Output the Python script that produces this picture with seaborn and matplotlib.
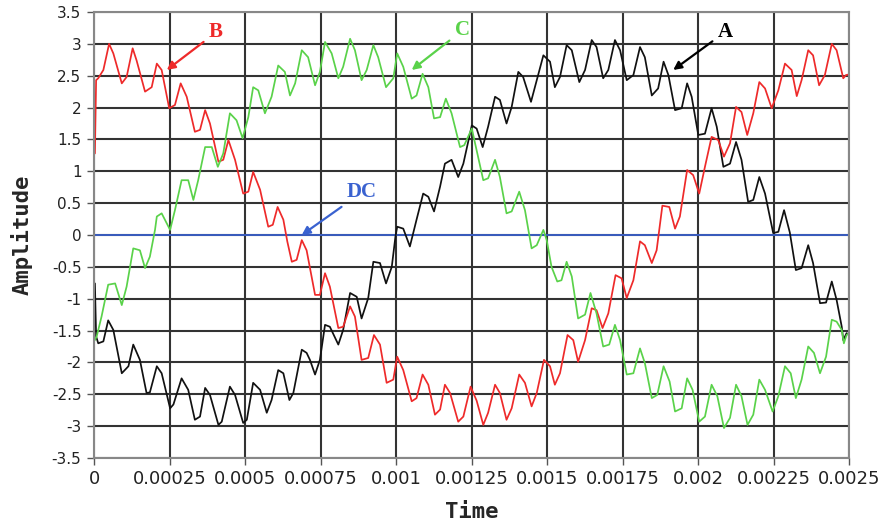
import numpy as np
import pandas as pd
import matplotlib
matplotlib.use("Agg")
import matplotlib.pyplot as plt
import seaborn as sns

# ---- data (time in microseconds, amplitude) ----
a_t = [3, 7, 14, 31, 47, 64, 92, 114, 130, 152, 174, 185, 208, 224, 252, 263, 290, 312, 334, 351,
       368, 384, 412, 423, 450, 467, 494, 506, 527, 550, 572, 588, 610, 627, 647, 660, 688, 704, 715, 732,
       748, 765, 781, 809, 825, 848, 870, 886, 908, 925, 947, 967, 986, 998, 1004, 1024, 1046, 1068, 1090, 1107,
       1126, 1146, 1162, 1184, 1206, 1223, 1251, 1267, 1287, 1305, 1328, 1344, 1366, 1383, 1405, 1421, 1447, 1466, 1488, 1510,
       1526, 1543, 1565, 1582, 1607, 1626, 1648, 1664, 1686, 1703, 1725, 1742, 1764, 1786, 1808, 1824, 1847, 1868, 1886, 1902,
       1924, 1946, 1964, 1979, 2001, 2023, 2045, 2062, 2084, 2106, 2126, 2144, 2166, 2183, 2203, 2222, 2249, 2266, 2285, 2304,
       2324, 2343, 2365, 2381, 2404, 2424, 2443, 2459, 2476, 2481, 2492, 2500]
a_v = [-0.76, -1.59, -1.70, -1.67, -1.34, -1.49, -2.17, -2.06, -1.72, -1.96, -2.48, -2.47, -2.06, -2.17, -2.72, -2.66, -2.25, -2.43, -2.90, -2.85,
       -2.40, -2.51, -2.98, -2.93, -2.38, -2.51, -2.95, -2.90, -2.32, -2.43, -2.79, -2.59, -2.12, -2.17, -2.59, -2.48, -1.80, -1.85, -1.96, -2.19,
       -1.96, -1.41, -1.44, -1.72, -1.49, -0.91, -0.97, -1.31, -0.99, -0.42, -0.44, -0.76, -0.50, -0.03, 0.13, 0.10, -0.18, 0.24, 0.65, 0.60,
       0.37, 0.76, 1.12, 1.18, 0.91, 1.12, 1.72, 1.67, 1.38, 1.70, 2.17, 2.12, 1.75, 2.01, 2.56, 2.48, 2.09, 2.43, 2.82, 2.72,
       2.32, 2.48, 2.98, 2.90, 2.40, 2.59, 3.06, 2.95, 2.46, 2.59, 3.06, 2.90, 2.43, 2.51, 2.95, 2.79, 2.19, 2.30, 2.72, 2.51,
       1.96, 1.99, 2.38, 2.17, 1.57, 1.59, 1.99, 1.70, 1.07, 1.12, 1.46, 1.18, 0.52, 0.55, 0.91, 0.65, 0.03, 0.05, 0.39, 0.04,
       -0.55, -0.52, -0.16, -0.44, -1.07, -1.06, -0.73, -1.02, -1.44, -1.65, -1.54, -1.57]

b_t = [3, 7, 14, 31, 50, 64, 92, 108, 128, 141, 169, 191, 208, 224, 249, 268, 287, 307, 334, 351,
       368, 384, 412, 428, 445, 467, 494, 511, 527, 550, 577, 592, 608, 627, 640, 655, 671, 688, 704, 732,
       748, 765, 781, 809, 825, 848, 864, 886, 908, 927, 947, 969, 991, 1004, 1024, 1052, 1068, 1088, 1107, 1129,
       1146, 1162, 1179, 1206, 1223, 1247, 1267, 1289, 1305, 1328, 1344, 1366, 1383, 1408, 1427, 1449, 1466, 1490, 1510, 1526,
       1543, 1568, 1587, 1603, 1626, 1648, 1664, 1684, 1703, 1727, 1747, 1764, 1786, 1808, 1824, 1847, 1863, 1882, 1905, 1924,
       1940, 1964, 1984, 2004, 2023, 2045, 2067, 2086, 2106, 2126, 2144, 2163, 2183, 2203, 2222, 2244, 2266, 2288, 2310, 2327,
       2343, 2365, 2381, 2401, 2420, 2443, 2459, 2481, 2490, 2500]
b_v = [1.28, 2.43, 2.46, 2.59, 3.00, 2.85, 2.38, 2.48, 2.93, 2.74, 2.25, 2.32, 2.69, 2.59, 1.99, 2.04, 2.38, 2.17, 1.62, 1.65,
       1.96, 1.75, 1.15, 1.18, 1.49, 1.18, 0.65, 0.68, 0.99, 0.71, 0.13, 0.16, 0.44, 0.24, -0.10, -0.42, -0.39, -0.08, -0.24, -0.94,
       -0.94, -0.60, -0.81, -1.46, -1.44, -1.12, -1.28, -1.96, -1.93, -1.57, -1.72, -2.32, -2.27, -1.91, -2.12, -2.61, -2.56, -2.19, -2.35, -2.82,
       -2.74, -2.35, -2.48, -2.93, -2.85, -2.38, -2.60, -2.98, -2.79, -2.35, -2.48, -2.90, -2.72, -2.19, -2.32, -2.69, -2.48, -1.96, -2.06, -2.35,
       -2.17, -1.57, -1.65, -1.99, -1.65, -1.15, -1.18, -1.46, -1.23, -0.63, -0.68, -0.99, -0.71, -0.10, -0.16, -0.44, -0.24, 0.46, 0.44, 0.10,
       0.29, 1.02, 0.94, 0.65, 1.07, 1.54, 1.49, 1.23, 1.44, 2.01, 1.93, 1.57, 1.91, 2.40, 2.30, 1.99, 2.27, 2.69, 2.59, 2.18,
       2.43, 2.90, 2.82, 2.35, 2.51, 3.00, 2.90, 2.46, 2.51, 2.52]

c_t = [3, 9, 25, 47, 70, 92, 108, 130, 152, 169, 185, 202, 208, 224, 252, 268, 290, 312, 329, 345,
       368, 390, 410, 428, 450, 472, 492, 511, 527, 544, 566, 588, 610, 632, 649, 666, 688, 709, 732, 748,
       765, 787, 809, 825, 848, 864, 886, 903, 925, 941, 967, 991, 1004, 1024, 1052, 1068, 1088, 1107, 1126, 1146,
       1165, 1184, 1212, 1226, 1251, 1267, 1289, 1305, 1328, 1344, 1366, 1383, 1408, 1427, 1449, 1466, 1488, 1499, 1515, 1534,
       1548, 1565, 1582, 1603, 1626, 1644, 1664, 1686, 1706, 1725, 1742, 1764, 1786, 1808, 1824, 1847, 1865, 1886, 1906, 1924,
       1946, 1964, 1982, 2004, 2023, 2045, 2064, 2086, 2106, 2126, 2144, 2164, 2183, 2203, 2222, 2247, 2266, 2288, 2307, 2324,
       2343, 2365, 2384, 2404, 2424, 2443, 2459, 2476, 2483, 2492, 2500]
c_v = [-1.65, -1.59, -1.28, -0.78, -0.76, -1.10, -0.81, -0.21, -0.24, -0.52, -0.34, 0.08, 0.29, 0.34, 0.08, 0.39, 0.86, 0.86, 0.55, 0.86,
       1.38, 1.38, 1.07, 1.28, 1.91, 1.80, 1.52, 1.85, 2.32, 2.27, 1.91, 2.17, 2.66, 2.56, 2.19, 2.38, 2.90, 2.79, 2.35, 2.56,
       3.03, 2.85, 2.46, 2.64, 3.08, 2.90, 2.43, 2.59, 2.98, 2.79, 2.32, 2.46, 2.85, 2.64, 2.14, 2.19, 2.53, 2.32, 1.83, 1.85,
       2.14, 1.91, 1.38, 1.41, 1.67, 1.33, 0.86, 0.89, 1.18, 0.91, 0.34, 0.37, 0.68, 0.39, -0.21, -0.16, 0.08, -0.08, -0.50, -0.73,
       -0.71, -0.42, -0.65, -1.31, -1.25, -0.91, -1.23, -1.75, -1.72, -1.41, -1.65, -2.19, -2.17, -1.78, -2.01, -2.56, -2.51, -2.06, -2.30, -2.77,
       -2.72, -2.25, -2.43, -2.93, -2.85, -2.35, -2.53, -3.03, -2.87, -2.35, -2.53, -2.98, -2.82, -2.27, -2.43, -2.77, -2.53, -2.06, -2.17, -2.56,
       -2.27, -1.75, -1.85, -2.17, -1.91, -1.33, -1.36, -1.49, -1.70, -1.57, -1.54]

dc_t = [0, 2500]
dc_v = [0.0, 0.0]

x_ticks = [0, 0.00025, 0.0005, 0.00075, 0.001, 0.00125, 0.0015, 0.00175, 0.002, 0.00225, 0.0025]
x_labels = ["0", "0.00025", "0.0005", "0.00075", "0.001", "0.00125", "0.0015", "0.00175", "0.002", "0.00225", "0.0025"]
y_ticks = [3.5, 3, 2.5, 2, 1.5, 1, 0.5, 0, -0.5, -1, -1.5, -2, -2.5, -3, -3.5]
y_labels = ["3.5", "3", "2.5", "2", "1.5", "1", "0.5", "0", "-0.5", "-1", "-1.5", "-2", "-2.5", "-3", "-3.5"]

colors = {"DC": "#3a62d0", "A": "#111111", "B": "#ee2a2a", "C": "#5ad24a"}

frames = []
for name, tt, vv in [("DC", dc_t, dc_v), ("A", a_t, a_v), ("B", b_t, b_v), ("C", c_t, c_v)]:
    frames.append(pd.DataFrame({"Time": np.array(tt) * 1e-6, "Amplitude": vv, "phase": name}))
df = pd.concat(frames, ignore_index=True)

sns.set_theme(style="white")
fig = plt.figure(figsize=(8.8, 5.26), dpi=100)
ax = fig.add_axes([94 / 880, 1 - 458 / 526, 755 / 880, 446 / 526])

sns.lineplot(data=df, x="Time", y="Amplitude", hue="phase", hue_order=["DC", "A", "B", "C"],
             palette=colors, estimator=None, sort=False, legend=False, linewidth=1.25, ax=ax)

ax.set_xlim(0, 0.0025)
ax.set_ylim(-3.5, 3.5)
ax.set_xticks(x_ticks)
ax.set_xticklabels(x_labels, family=["Liberation Sans Narrow", "DejaVu Sans"], fontsize=13, color="#222222")
ax.set_yticks(y_ticks)
ax.set_yticklabels(y_labels, family="DejaVu Sans", fontsize=11, color="#222222")
ax.set_axisbelow(True)
ax.grid(True, color="#333333", linewidth=1.5)
ax.tick_params(bottom=True, left=True, direction="out", length=5, width=1, color="#555555", pad=4)
for s in ax.spines.values():
    s.set_color("#888888")
    s.set_linewidth(1.5)

ax.set_xlabel("Time", family="DejaVu Sans Mono", fontweight="bold", fontsize=16, labelpad=10)
ax.set_ylabel("Amplitude", family="DejaVu Sans Mono", fontweight="bold", fontsize=16, labelpad=14)

serif = "Liberation Serif"
ax.annotate("B", xy=(241e-6, 2.59), xytext=(381e-6, 3.18), color=colors["B"], fontsize=15,
            family=serif, fontweight="bold", ha="left", va="center",
            arrowprops=dict(arrowstyle="-|>", color=colors["B"], lw=1.6, shrinkA=2, shrinkB=0, mutation_scale=12))
ax.annotate("C", xy=(1052e-6, 2.59), xytext=(1195e-6, 3.21), color=colors["C"], fontsize=15,
            family=serif, fontweight="bold", ha="left", va="center",
            arrowprops=dict(arrowstyle="-|>", color=colors["C"], lw=1.6, shrinkA=2, shrinkB=0, mutation_scale=12))
ax.annotate("A", xy=(1918e-6, 2.59), xytext=(2066e-6, 3.19), color="black", fontsize=15,
            family=serif, fontweight="bold", ha="left", va="center",
            arrowprops=dict(arrowstyle="-|>", color="black", lw=1.6, shrinkA=2, shrinkB=0, mutation_scale=12))
ax.annotate("DC", xy=(688e-6, 0.0), xytext=(838e-6, 0.67), color=colors["DC"], fontsize=15,
            family=serif, fontweight="bold", ha="left", va="center",
            arrowprops=dict(arrowstyle="-|>", color=colors["DC"], lw=1.6, shrinkA=2, shrinkB=0, mutation_scale=12))

fig.savefig("out.png", dpi=100)
